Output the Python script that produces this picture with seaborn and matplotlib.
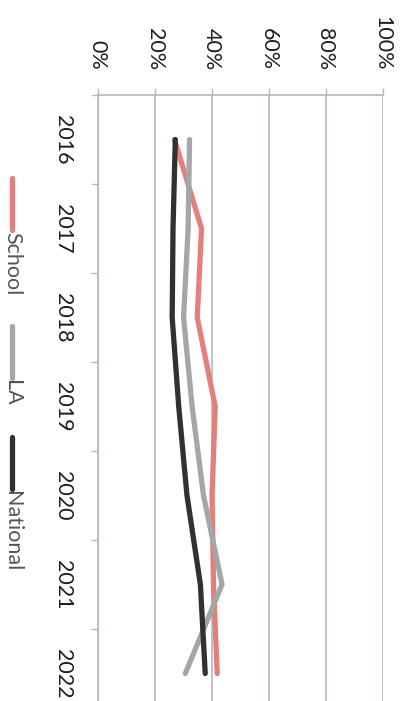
import matplotlib
matplotlib.use('Agg')
import matplotlib.pyplot as plt
import seaborn as sns
import pandas as pd
from matplotlib.lines import Line2D

years = [2016, 2017, 2018, 2019, 2020, 2021, 2022]
school = [27, 36.5, 35, 41.3, 40.2, 40.7, 42]
la = [32.3, 31.8, 30.2, 33.2, 37.2, 43.7, 30.8]
national = [27.3, 26.5, 26.2, 28.5, 31.4, 36.1, 37.8]
series_names = ['School', 'LA', 'National']
pct_ticks = [0, 20, 40, 60, 80, 100]
pct_labels = ['0%', '20%', '40%', '60%', '80%', '100%']

colors = {'School': '#e3807c', 'LA': '#a2a7a7', 'National': '#2f3133'}
axis_color = '#b0b9c6'

df = pd.DataFrame({
    'year': years * 3,
    'value': school + la + national,
    'series': [n for n in series_names for _ in years],
})

sns.set_style('white')
plt.rcParams['font.family'] = ['Lato', 'DejaVu Sans']

W, H = 401, 701
fig = plt.figure(figsize=(W / 100, H / 100), dpi=100)
fig.patch.set_facecolor('white')
# chart is drawn turned 90 degrees clockwise
ax = fig.add_axes([97.5 / W, 1 - 718 / H, 285 / W, 623 / H])

sns.lineplot(data=df, x='value', y='year', hue='series', palette=colors,
             orient='y', errorbar=None, linewidth=3.8, legend=False, ax=ax,
             solid_capstyle='round')

ax.set_xlim(0, 100)
ax.set_ylim(2022.5, 2015.5)
ax.set_xlabel('')
ax.set_ylabel('')

# value axis on top
ax.xaxis.tick_top()
ax.set_xticks(pct_ticks, pct_labels)
ax.tick_params(axis='x', which='major', direction='out', length=5, width=1,
               color=axis_color, pad=13, labelsize=15.5, labelrotation=-90,
               labelcolor='#1e1e1e')
ax.grid(axis='x', color=axis_color, linewidth=1.2)
ax.grid(axis='y', visible=False)

# category axis on the left, ticks between the years
ax.set_yticks(years, [str(y) for y in years])
ax.set_yticks([y - 0.5 for y in years] + [years[-1] + 0.5], minor=True)
ax.tick_params(axis='y', which='major', length=0, pad=18, labelsize=15.5,
               labelrotation=-90, labelcolor='#1e1e1e')
ax.tick_params(axis='y', which='minor', direction='out', length=5, width=1,
               color=axis_color, left=True)
for lab in ax.get_yticklabels():
    lab.set_va('center')

for side in ['right', 'bottom']:
    ax.spines[side].set_visible(False)
for side in ['left', 'top']:
    ax.spines[side].set_color(axis_color)
    ax.spines[side].set_linewidth(1.2)

# legend, turned like the chart
fig.canvas.draw()
renderer = fig.canvas.get_renderer()
pos = 178
for name in series_names:
    fig.add_artist(Line2D([12 / W, 12 / W], [1 - pos / H, 1 - (pos + 52) / H],
                          color=colors[name], lw=3.8, solid_capstyle='round'))
    t = fig.text(12 / W, 1 - (pos + 54) / H, name, rotation=-90, ha='center',
                 va='top', fontsize=15.5, color='#555555')
    bb = t.get_window_extent(renderer)
    pos = H - bb.y0 + 31

fig.savefig('out.png', dpi=100)
